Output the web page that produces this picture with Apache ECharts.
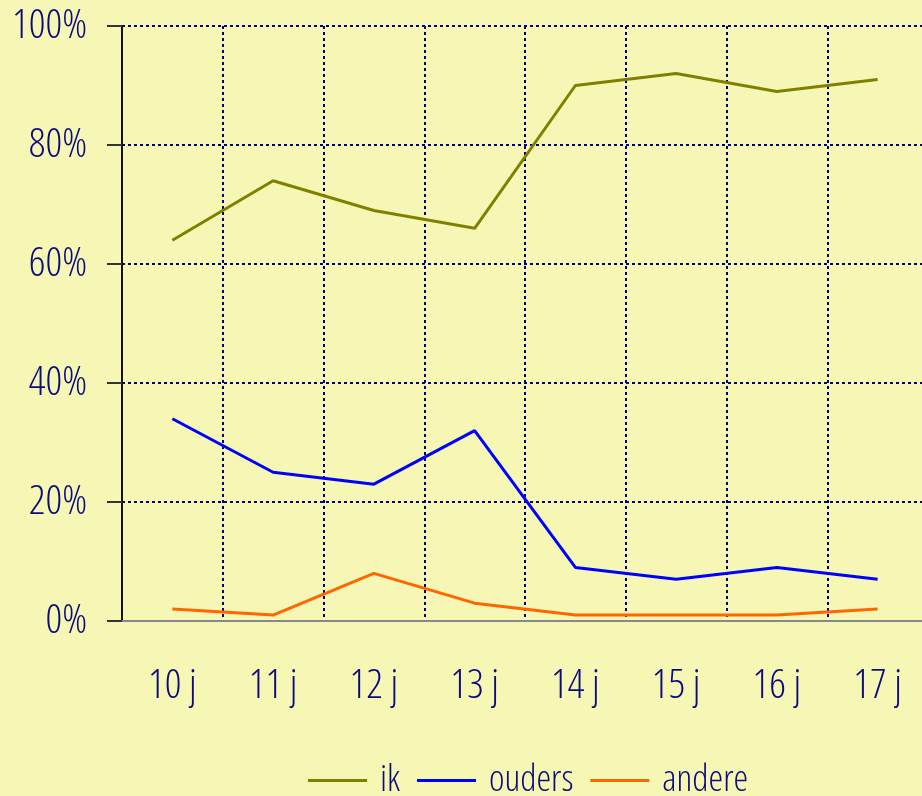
<!DOCTYPE html>
<html>
<head>
<meta charset="utf-8">
<script src="https://cdn.jsdelivr.net/npm/echarts@6/dist/echarts.min.js"></script>
<style>
html,body{margin:0;padding:0;background:#f7f7b5;}
#chart{width:922px;height:796px;}
</style>
</head>
<body>
<div id="chart"></div>
<script>
var categories = ['10 j', '11 j', '12 j', '13 j', '14 j', '15 j', '16 j', '17 j'];
var ik = [64, 74, 69, 66, 90, 92, 89, 91];
var ouders = [34, 25, 23, 32, 9, 7, 9, 7];
var andere = [2, 1, 8, 3, 1, 1, 1, 2];

// narrow text: Open Sans with font-stretch condensed
var font = '"Open Sans", "DejaVu Sans Condensed", sans-serif';
var stretch = 'condensed';
var weight = 360;
var navy = '#0b0b7d';
var grid = { type: [3, 3], color: '#000080', width: 2 };

var mychart = echarts.init(document.getElementById('chart'));
var option = {
    backgroundColor: '#f7f7b5',
    animation: false,
    grid: { left: 122, top: 26, width: 806, height: 595, outerBoundsMode: 'none' },
    legend: {
        bottom: -8,
        left: 303,
        icon: 'rect',
        itemWidth: 59,
        itemHeight: 3,
        itemGap: 17,
        textStyle: { fontFamily: font, fontStyle: stretch, fontWeight: weight, fontSize: 37, color: navy, padding: [0, 0, 0, 8] },
        data: ['ik', 'ouders', 'andere']
    },
    xAxis: {
        type: 'category',
        data: categories,
        boundaryGap: true,
        axisLine: { lineStyle: { color: '#888', width: 2 } },
        axisTick: { show: false },
        axisLabel: { fontFamily: font, fontStyle: stretch, fontWeight: weight, fontSize: 41, color: navy, margin: 45 },
        splitLine: { show: true, lineStyle: grid }
    },
    yAxis: {
        type: 'value',
        min: 0,
        max: 100,
        interval: 20,
        axisLine: { show: true, lineStyle: { color: '#111', width: 2 } },
        axisTick: { show: true, length: 15, lineStyle: { color: '#333', width: 2 } },
        axisLabel: { fontFamily: font, fontStyle: stretch, fontWeight: weight, fontSize: 41, color: navy, margin: 35, formatter: '{value}%' },
        splitLine: { show: true, lineStyle: grid }
    },
    series: [
        { name: 'ik', type: 'line', data: ik, symbol: 'none', color: '#808000', lineStyle: { width: 3 } },
        { name: 'ouders', type: 'line', data: ouders, symbol: 'none', color: '#0000ff', lineStyle: { width: 3 } },
        { name: 'andere', type: 'line', data: andere, symbol: 'none', color: '#ff6600', lineStyle: { width: 3 } }
    ]
};
mychart.setOption(option);
</script>
</body>
</html>
